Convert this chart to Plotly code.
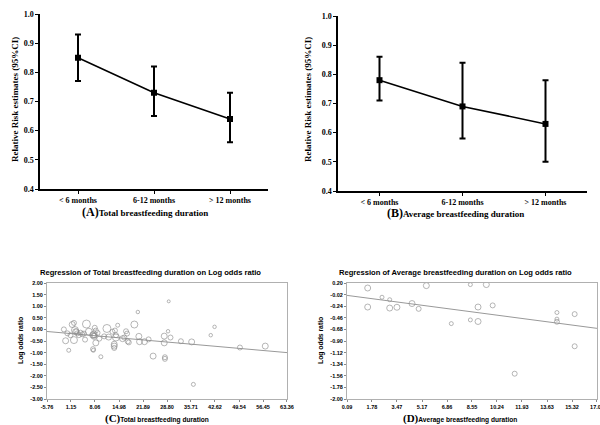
import plotly.graph_objects as go

# ---------------- data ----------------
categories = ["< 6 months", "6-12 months", "> 12 months"]

a_rr = [0.85, 0.73, 0.64]
a_lo = [0.77, 0.65, 0.56]
a_hi = [0.93, 0.82, 0.73]

b_rr = [0.78, 0.69, 0.63]
b_lo = [0.71, 0.58, 0.50]
b_hi = [0.86, 0.84, 0.78]

rr_ticks = [0.4, 0.5, 0.6, 0.7, 0.8, 0.9, 1.0]

# Panel C: total breastfeeding duration vs log odds ratio (weight = marker size)
c_x = [-0.9, -0.4, 0.1, 0.5, 1.0, 1.5, 2.0, 2.0, 2.3, 2.5, 2.7, 3.0, 3.4, 3.9, 4.4,
       5.2, 5.6, 6.3, 4.9, 7.4, 7.7, 7.8, 7.9, 8.0, 8.3, 8.3, 7.5, 7.6, 8.8, 9.3,
       9.75, 10.7, 11.5, 12.0, 13.1, 13.6, 13.6, 13.6, 13.8, 14.1, 14.6, 14.1,
       16.0, 16.5, 17.0, 17.3, 17.5, 17.8, 19.4, 20.4, 20.7, 20.9, 22.3, 23.5,
       24.8, 28.0, 28.0, 28.2, 28.2, 29.3, 29.1, 29.8, 32.8, 35.9, 36.4, 41.4,
       42.5, 49.8, 57.1]
c_y = [0.00, -0.49, -0.17, -0.90, -0.25, 0.21, 0.28, -0.46, -0.03, -0.10, -0.08, -0.17,
       -0.25, -0.14, -0.21, -0.44, 0.23, -0.10, -0.18, -0.25, -0.22, -0.30, -0.26,
       0.07, -0.05, -0.58, -0.85, -0.90, -0.15, -0.40, -1.18, -0.30, 0.04, -0.33,
       -0.10, -0.64, -0.72, -0.80, -0.05, -0.35, 0.18, -0.25, -0.40, -0.35, -0.08,
       -0.18, -0.52, -0.56, 0.21, 0.75, -0.30, -0.53, -0.53, -0.43, -1.15, -0.29,
       -0.58, -1.20, -1.27, 1.21, -0.08, -0.35, -0.51, -0.54, -2.37, -0.25, 0.11,
       -0.78, -0.72]
c_size = [5, 6, 5, 4, 5, 6, 5, 7, 7, 6, 5, 5, 5, 5, 5, 5, 8, 7, 5, 6, 7, 6, 5, 5, 5,
          6, 5, 4, 5, 5, 4, 5, 8, 6, 5, 6, 6, 5, 5, 7, 4, 5, 6, 5, 5, 5, 5, 5, 7, 3.5,
          6, 6, 6, 5, 6, 6, 6, 5, 5, 3, 3.5, 5, 5, 6, 4, 3.5, 3.5, 5, 6]
c_line_x = [-5.76, 63.36]
c_line_y = [-0.09, -1.00]
c_xticks = [-5.76, 1.15, 8.06, 14.98, 21.89, 28.80, 35.71, 42.62, 49.54, 56.45, 63.36]
c_yticks = [2.00, 1.50, 1.00, 0.50, 0.00, -0.50, -1.00, -1.50, -2.00, -2.50, -3.00]

# Panel D: average breastfeeding duration vs log odds ratio
d_x = [1.49, 1.49, 2.46, 2.98, 2.98, 3.47, 4.49, 4.94, 5.46, 7.15, 8.44, 8.44, 8.96,
       8.96, 9.52, 9.95, 11.44, 14.30, 14.30, 14.30, 15.50, 15.50]
d_y = [0.105, -0.256, -0.07, -0.117, -0.275, -0.26, -0.19, -0.29, 0.15, -0.57, 0.17,
       -0.50, -0.256, -0.53, 0.17, -0.225, -1.52, -0.36, -0.485, -0.535, -0.39, -1.00]
d_size = [6, 6, 4, 4, 6, 6, 6, 5, 6, 4, 4, 4, 6, 6, 6, 5, 5, 4, 4, 5, 5, 5]
d_line_x = [0.09, 17.01]
d_line_y = [-0.035, -0.66]
d_xticks = [0.09, 1.78, 3.47, 5.17, 6.86, 8.55, 10.24, 11.93, 13.63, 15.32, 17.01]
d_yticks = [0.20, -0.02, -0.24, -0.46, -0.68, -0.90, -1.12, -1.34, -1.56, -1.78, -2.00]

# ---------------- figure ----------------
SERIF = "Liberation Serif"
SANS = "Liberation Sans"
GRAY = "#8a8a8a"

fig = go.Figure()


def rr_trace(vals, lo, hi, xa, ya):
    return go.Scatter(
        x=categories, y=vals, mode="lines+markers", xaxis=xa, yaxis=ya,
        line=dict(color="black", width=1.6),
        marker=dict(symbol="square", size=6, color="black"),
        error_y=dict(type="data", symmetric=False,
                     array=[h - v for h, v in zip(hi, vals)],
                     arrayminus=[v - l for v, l in zip(vals, lo)],
                     color="black", thickness=2, width=3),
        showlegend=False, hoverinfo="skip")


fig.add_trace(rr_trace(a_rr, a_lo, a_hi, "x", "y"))
fig.add_trace(rr_trace(b_rr, b_lo, b_hi, "x2", "y2"))

fig.add_trace(go.Scatter(x=c_line_x, y=c_line_y, mode="lines", xaxis="x3", yaxis="y3",
                         line=dict(color="#999999", width=1), showlegend=False))
fig.add_trace(go.Scatter(x=c_x, y=c_y, mode="markers", xaxis="x3", yaxis="y3",
                         marker=dict(symbol="circle-open", size=c_size, color=GRAY,
                                     line=dict(width=0.9)),
                         showlegend=False))
fig.add_trace(go.Scatter(x=d_line_x, y=d_line_y, mode="lines", xaxis="x4", yaxis="y4",
                         line=dict(color="#999999", width=1), showlegend=False))
fig.add_trace(go.Scatter(x=d_x, y=d_y, mode="markers", xaxis="x4", yaxis="y4",
                         marker=dict(symbol="circle-open", size=d_size, color=GRAY,
                                     line=dict(width=0.9)),
                         showlegend=False))

rr_x = dict(type="category", range=[-0.5, 2.5], showline=True, linecolor="black",
            linewidth=1.5, ticks="outside", ticklen=3, tickwidth=1.2, tickcolor="black",
            showgrid=False, zeroline=False, automargin=False,
            tickfont=dict(family=SERIF, size=8, color="black", weight="bold"))
rr_y = dict(range=[0.4, 1.0], tickvals=rr_ticks, ticktext=[f"{t:.1f}" for t in rr_ticks],
            showline=True, linecolor="black", linewidth=1.5, ticks="outside", ticklen=3,
            tickwidth=1.2, tickcolor="black", showgrid=False, zeroline=False,
            automargin=False,
            tickfont=dict(family=SERIF, size=8, color="black", weight="bold"))

reg_common = dict(showline=True, linecolor="#b0b0b0", linewidth=1, mirror=True,
                  ticks="outside", ticklen=2, tickcolor="#888888", showgrid=False,
                  zeroline=False, automargin=False, ticklabeloverflow="allow",
                  tickfont=dict(family=SANS, size=5.5, color="black", weight="bold"))

fig.update_layout(
    width=600, height=425, margin=dict(l=0, r=0, t=0, b=0, autoexpand=False),
    paper_bgcolor="white", plot_bgcolor="white",
    xaxis=dict(domain=[40 / 600, 268 / 600], anchor="y", **rr_x),
    yaxis=dict(domain=[1 - 189 / 425, 1 - 14 / 425], anchor="x", **rr_y),
    xaxis2=dict(domain=[338 / 600, 587 / 600], anchor="y2", **rr_x),
    yaxis2=dict(domain=[1 - 191 / 425, 1 - 16 / 425], anchor="x2", **rr_y),
    xaxis3=dict(domain=[47 / 600, 287 / 600], anchor="y3", range=[-5.76, 63.362],
                tickvals=c_xticks, ticktext=[f"{t:.2f}" for t in c_xticks], **reg_common),
    yaxis3=dict(domain=[1 - 399 / 425, 1 - 283 / 425], anchor="x3", range=[-3.0, 2.0],
                tickvals=c_yticks, ticktext=[f"{t:.2f}" for t in c_yticks], **reg_common),
    xaxis4=dict(domain=[347 / 600, 597 / 600], anchor="y4", range=[0.09, 17.012],
                tickvals=d_xticks, ticktext=[f"{t:.2f}" for t in d_xticks], **reg_common),
    yaxis4=dict(domain=[1 - 399 / 425, 1 - 283 / 425], anchor="x4", range=[-2.0, 0.2],
                tickvals=d_yticks, ticktext=[f"{t:.2f}" for t in d_yticks], **reg_common),
)


def ann(text, x, y, size, family, angle=0, xanchor="center"):
    fig.add_annotation(text=text, x=x / 600, y=1 - y / 425, xref="paper", yref="paper",
                       showarrow=False, textangle=angle, xanchor=xanchor, yanchor="middle",
                       font=dict(family=family, size=size, color="black"))


ann("<b>Relative Risk estimates (95%CI)</b>", 15, 100, 9, SERIF, angle=-90)
ann("<b>Relative Risk estimates (95%CI)</b>", 308, 100, 9, SERIF, angle=-90)
ann("<b><span style='font-size:12px'>(A)</span>Total breastfeeding duration</b>",
    145, 212, 9, SERIF)
ann("<b><span style='font-size:12px'>(B)</span>Average breastfeeding duration</b>",
    455, 213, 9, SERIF)

ann("<b>Regression of Total breastfeeding duration on Log odds ratio</b>", 150, 272, 7.6, SANS)
ann("<b>Regression of Average breastfeeding duration on Log odds ratio</b>", 455, 272, 7.6, SANS)
ann("<b>Log odds ratio</b>", 21, 341, 6.8, SANS, angle=-90)
ann("<b>Log odds ratio</b>", 321, 341, 6.8, SANS, angle=-90)
ann("<b><span style=\"font-family:'Liberation Serif';font-size:11px\">(C)</span>"
    "Total breastfeeding duration</b>", 157, 418, 6.6, SANS)
ann("<b><span style=\"font-family:'Liberation Serif';font-size:11px\">(D)</span>"
    "Average breastfeeding duration</b>", 460, 418, 6.6, SANS)

# remove the browser's default page margin so the 600x425 figure fills the window
fig.write_html("out.html", config={"displayModeBar": False},
               post_script="document.body.style.margin='0px';")
